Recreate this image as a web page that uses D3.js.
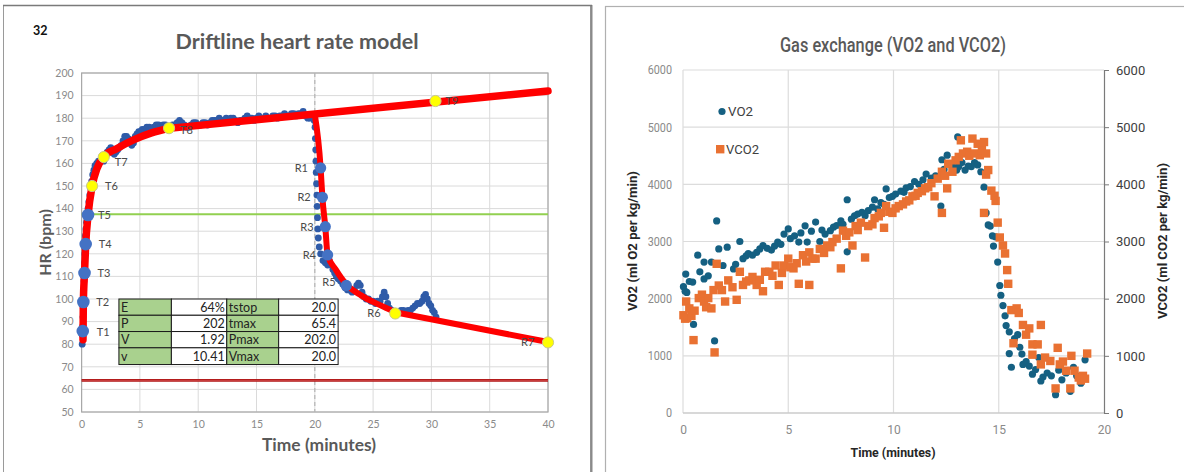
<!DOCTYPE html>
<html><head><meta charset="utf-8">
<script src="https://cdn.jsdelivr.net/npm/d3@7"></script>
<style>
html,body{margin:0;padding:0;background:#fff;}
svg{display:block;}
.lf{font-family:Lato,'Open Sans',sans-serif;}
.rf{font-family:Roboto,'Open Sans',sans-serif;}
</style></head>
<body>
<svg id="c" width="1184" height="472"></svg>
<script>
// ---------- Left chart data ----------
const hrTicksY = [50,60,70,80,90,100,110,120,130,140,150,160,170,180,190,200];
const hrTicksX = [0,5,10,15,20,25,30,35,40];
const hrTime = [0.05,0.08,0.1,0.12,0.14,0.16,0.18,0.2,0.22,0.25,0.28,0.3,0.33,0.37,0.42,0.48,0.55,0.62,0.7,0.78,0.86,0.95,1.05,1.15,1.3,1.45,1.6,1.75,1.9,2.05,2.2,2.35,2.5,2.65,2.8,2.95,3.1,3.25,3.4,3.55,3.7,3.85,4.0,4.15,4.3,4.45,4.6,4.75,4.9,5.05,5.2,5.4,5.6,5.8,6.0,6.2,6.4,6.6,6.8,7.0,7.2,7.4,7.6,7.8,8.0,8.2,8.4,8.6,8.8,9.0,9.2,9.4,9.6,9.8,10.0,10.2,10.4,10.6,10.8,11.0,11.2,11.4,11.6,11.8,12.0,12.2,12.4,12.6,12.8,13.0,13.2,13.4,13.6,13.8,14.0,14.2,14.4,14.6,14.8,15.0,15.2,15.4,15.6,15.8,16.0,16.2,16.4,16.6,16.8,17.0,17.2,17.4,17.6,17.8,18.0,18.2,18.4,18.6,18.8,19.0,19.2,19.4,19.6,19.8,19.95,20.02,20.05,20.08,20.1,20.12,20.15,20.18,20.2,20.23,20.26,20.3,20.38,20.5,20.7,20.9,21.1,21.25,21.4,21.55,21.7,21.85,22.0,22.2,22.4,22.6,22.8,23.0,23.2,23.4,23.6,23.75,23.9,24.05,24.2,24.4,24.6,24.8,25.0,25.2,25.4,25.6,25.8,25.95,26.1,26.25,26.4,26.6,26.8,27.0,27.2,27.4,27.6,27.8,28.0,28.2,28.4,28.6,28.8,29.0,29.2,29.35,29.5,29.65,29.8,29.95,30.1,30.25,30.4];
const hrValue = [80,84,88,92,96,100,104,108,112,116,120,124,128,131,134,137,140,143,146,149,152,155,157,159,160,161,161,162,161,163,165,166,167,165,164,165,166,167,168,170,172,172,171,169,168,169,172,173,174,174,175,175,176,176,175,176,177,177,176,177,177,176,176,177,177,178,179,178,177,176,176,177,178,178,177,177,178,178,177,178,179,179,179,180,179,179,180,179,180,180,179,178,179,179,180,181,180,180,179,180,181,180,180,181,180,180,181,181,180,181,181,182,181,181,182,182,181,182,182,183,181,180,180,181,179,176,171,166,161,156,151,146,141,136,131,127,123,120,117,116,115,117,115,113,111.5,110,109,108,106.5,105,104,104,103,104,106,107,106,103,101,100,100,99,99,98,99,99,101,103,101,98,96,95,94,94,94,95,95,94,95,95,96,97,98,98,99,101,102,100,98,97,95,94,92];
const modelRiseT = [0.12,0.15,0.25,0.35,0.55,0.9,1.3,1.9,3,4.5,6,7.5];
const modelRiseV = [82,98.5,111.5,124,137,150,157.5,163,166.5,170.5,173.5,175.5];
const modelDriftT = [7.5,40];
const modelDriftV = [175.5,192];
const modelRecT = [20.0,20.5,20.65,20.9,21.1,21.8,22.7,24,25.5,27];
const modelRecV = [181.5,158,145,132,119.5,113,106.5,101.5,97.5,94];
const modelTailT = [27,40];
const modelTailV = [94,81];
const blueMarkLabels = ["T1","T2","T3","T4","T5","R1","R2","R3","R4","R5"];
const blueMarkT = [0.1,0.15,0.25,0.35,0.55,20.5,20.65,20.9,21.1,22.7];
const blueMarkV = [85.8,98.7,111.5,124.3,137.2,158,145,132,119.5,106];
const yellowMarkLabels = ["T6","T7","T8","T9","R6","R7"];
const yellowMarkT = [0.9,1.9,7.5,30.35,26.9,40];
const yellowMarkV = [150,162.8,175.6,187.6,93.6,80.8];
const thresholdHR = 137.5;
const restHR = 64;
const stopTime = 20;
const tableRows = [["E","64%","tstop","20.0"],["P","202","tmax","65.4"],["V","1.92","Pmax","202.0"],["v","10.41","Vmax","20.0"]];
const tableColT = [3.2,7.7,12.45,16.9,22.0];
const tableRowHR = [100,92.8,85.6,78.4,71];

// ---------- Right chart data ----------
const gasTicksY = [0,1000,2000,3000,4000,5000,6000];
const gasTicksX = [0,5,10,15,20];
const vo2Time = [0.02,0.1,0.13,0.18,0.3,0.46,0.5,0.7,0.8,1.0,1.0,1.2,1.35,1.5,1.6,1.7,1.9,2.1,2.4,2.5,2.7,2.85,3.0,3.1,3.3,3.5,3.65,3.8,4.0,4.2,4.35,4.5,4.65,4.8,5.0,5.1,5.3,5.5,5.6,5.8,5.9,6.1,6.3,6.5,6.6,6.75,7.0,7.15,7.3,7.5,7.6,7.8,7.8,8.0,8.15,8.3,8.5,8.65,8.8,9.0,9.1,9.25,9.4,9.55,9.65,9.8,9.95,10.1,10.35,10.5,10.6,10.8,11.0,11.2,11.4,11.55,11.8,12.0,12.25,12.3,12.4,12.55,12.7,12.85,13.0,13.05,13.1,13.25,13.4,13.55,13.7,13.85,14.0,14.15,14.3,14.4,14.5,14.6,14.7,14.75,14.85,14.95,15.05,15.1,15.2,15.3,15.35,15.5,15.5,15.6,15.75,15.9,16.0,16.1,16.15,16.3,16.45,16.6,16.75,16.9,17.0,17.1,17.3,17.5,17.7,17.85,18.0,18.2,18.4,18.55,18.7,18.9,19.1];
const vo2Value = [2210,2130,2430,2110,2300,2290,1550,2760,2470,2640,2345,2400,2640,1260,3360,2870,2580,2900,2520,2600,3000,2700,2750,2790,2760,2810,2870,2930,2880,2850,2920,2990,2950,3130,3220,3050,3100,2990,3150,3275,2990,3180,3340,3000,3200,3130,3190,3250,3280,3360,3300,3730,2820,3390,3450,3480,3510,3450,3540,3600,3730,3570,3680,3650,3920,3770,3790,3830,3880,3860,3940,3960,4050,4000,4080,4180,4110,4150,3620,4430,4260,4510,4350,4300,4250,4830,4310,4380,4250,4320,4310,4380,4340,4220,3950,3500,3290,3270,3100,2920,3080,2640,2230,2060,1880,1700,1530,1420,1040,800,1300,1370,1150,1030,850,900,820,680,760,970,560,630,700,650,320,750,580,700,380,800,650,520,930];
const vco2Time = [0.02,0.1,0.15,0.2,0.3,0.4,0.5,0.55,0.75,0.9,1.0,1.1,1.2,1.35,1.45,1.5,1.6,1.7,1.85,2.0,2.15,2.35,2.55,2.7,2.85,3.0,3.15,3.3,3.5,3.65,3.8,3.9,4.1,4.25,4.4,4.55,4.7,4.8,5.0,5.1,5.25,5.4,5.5,5.7,5.85,6.0,6.0,6.15,6.3,6.5,6.7,6.85,7.0,7.1,7.3,7.5,7.6,7.75,7.9,8.05,8.2,8.3,8.45,8.65,8.8,9.0,9.1,9.3,9.4,9.55,9.65,9.8,9.95,10.1,10.25,10.45,10.6,10.75,10.9,11.05,11.15,11.35,11.5,11.65,11.8,11.95,12.1,12.3,12.3,12.45,12.55,12.6,12.8,12.95,13.1,13.2,13.3,13.5,13.6,13.75,13.85,14.0,14.1,14.2,14.3,14.3,14.4,14.4,14.5,14.65,14.8,14.85,14.95,15.05,15.2,15.3,15.4,15.45,15.6,15.7,15.85,15.95,16.15,16.3,16.45,16.6,16.6,16.85,17.0,17.0,17.2,17.45,17.7,17.8,17.9,18.05,18.2,18.4,18.45,18.6,18.8,18.9,19.0,19.1,19.2];
const vco2Value = [1710,1650,1950,1660,1830,1700,1275,1790,2010,2070,1950,1850,2010,1830,2150,1060,2610,2230,2150,1950,2320,2200,1980,2470,2240,2300,2320,2380,2240,2330,2130,2470,2470,2400,2580,2240,2450,2580,2700,2550,2530,2620,2260,2760,2650,2240,2810,2700,2700,2870,2800,2930,2900,2990,3050,2530,3190,3100,3160,2930,3270,3200,3330,2720,3270,3300,3410,3440,3500,3240,3620,3520,3500,3580,3620,3650,3700,3720,3790,3800,3850,3880,3930,3950,4020,3790,4100,3500,4220,4150,3930,4360,4220,4420,4480,4770,4540,4570,4500,4800,4540,4710,4510,4600,4740,3500,4540,4170,4250,3890,3800,3710,3330,3070,2930,2790,2500,2260,1800,1220,1830,1750,1540,1370,1480,1200,1020,1200,1540,850,970,910,430,1140,850,900,740,430,1000,740,620,570,650,600,1040];

const svg = d3.select("#c");
svg.append("rect").attr("width",1184).attr("height",472).attr("fill","#fff");

// panel frames
svg.append("rect").attr("x",3.5).attr("y",5.5).attr("width",587).attr("height",470).attr("fill","none").attr("stroke","#9a9a9a").attr("stroke-width",1);
svg.append("line").attr("x1",591.5).attr("x2",591.5).attr("y1",5).attr("y2",472).attr("stroke","#8a8a8a").attr("stroke-width",2);
svg.append("line").attr("x1",3).attr("x2",592).attr("y1",5.5).attr("y2",5.5).attr("stroke","#7a7a7a").attr("stroke-width",1.5);
svg.append("rect").attr("x",605.5).attr("y",6.5).attr("width",590).attr("height",470).attr("fill","none").attr("stroke","#b0b0b0").attr("stroke-width",1.2);

// ================= LEFT CHART =================
const x = d3.scaleLinear().domain([0,40]).range([81.6,548]);
const y = d3.scaleLinear().domain([50,200]).range([412,73]);
const L = svg.append("g").attr("class","lf");

L.append("g").selectAll("line").data(hrTicksY).join("line")
  .attr("x1",x(0)).attr("x2",x(40)).attr("y1",d=>y(d)).attr("y2",d=>y(d))
  .attr("stroke","#dadada").attr("stroke-width",1);
L.append("g").selectAll("line").data(hrTicksX).join("line")
  .attr("y1",y(50)).attr("y2",y(200)).attr("x1",d=>x(d)).attr("x2",d=>x(d))
  .attr("stroke","#dadada").attr("stroke-width",1);
L.append("rect").attr("x",x(0)).attr("y",y(200)).attr("width",x(40)-x(0)).attr("height",y(50)-y(200))
  .attr("fill","none").attr("stroke","#a8a8a8").attr("stroke-width",1.2);

const ax = d3.axisBottom(x).tickValues(hrTicksX).tickSize(0).tickPadding(9);
const gx = L.append("g").attr("transform",`translate(0,${y(50)})`).call(ax);
gx.select(".domain").remove();
gx.selectAll("text").attr("fill","#8a8a8a").style("font-size","10.5px").style("font-family","Lato,sans-serif");
const ay = d3.axisLeft(y).tickValues(hrTicksY).tickSize(0).tickPadding(8);
const gy = L.append("g").attr("transform",`translate(${x(0)},0)`).call(ay);
gy.select(".domain").remove();
gy.selectAll("text").attr("fill","#8a8a8a").style("font-size","10.5px").style("font-family","Lato,sans-serif");

L.append("line").attr("x1",x(stopTime)).attr("x2",x(stopTime)).attr("y1",y(200)).attr("y2",y(50))
  .attr("stroke","#b5b5b5").attr("stroke-width",1.2).attr("stroke-dasharray","4,3");
L.append("line").attr("x1",x(0)).attr("x2",x(40)).attr("y1",y(thresholdHR)).attr("y2",y(thresholdHR))
  .attr("stroke","#92d050").attr("stroke-width",2);
L.append("line").attr("x1",x(0)).attr("x2",x(40)).attr("y1",y(restHR)).attr("y2",y(restHR))
  .attr("stroke","#b01515").attr("stroke-width",2.6);
L.append("line").attr("x1",x(0)).attr("x2",x(40)).attr("y1",y(restHR)).attr("y2",y(restHR))
  .attr("stroke","#e06060").attr("stroke-width",0.6);

const hrData = hrTime.map((t,i)=>({t,v:hrValue[i]}));
L.append("g").selectAll("circle").data(hrData).join("circle")
  .attr("cx",d=>x(d.t)).attr("cy",d=>y(d.v)).attr("r",3.4).attr("fill","#2f5ba8");

// table
const T = L.append("g");
tableRows.forEach((row,ri)=>{
  row.forEach((cell,ci)=>{
    const x0 = x(tableColT[ci]), x1 = x(tableColT[ci+1]);
    const y0 = y(tableRowHR[ri]), y1 = y(tableRowHR[ri+1]);
    T.append("rect").attr("x",x0).attr("y",y0).attr("width",x1-x0).attr("height",y1-y0)
      .attr("fill", ci%2===0 ? "#a9d18e" : "#ffffff").attr("stroke","#1a1a1a").attr("stroke-width",1);
    const left = ci%2===0;
    T.append("text").attr("x", left ? x0+2 : x1-2).attr("y",(y0+y1)/2+4.5)
      .attr("text-anchor", left ? "start":"end").attr("fill","#222")
      .style("font-size","12.5px").style("font-family","Lato,sans-serif").text(cell);
  });
});

// model curves
const redStyle = s=>s.attr("fill","none").attr("stroke","#ff0000").attr("stroke-width",7.5).attr("stroke-linecap","round").attr("stroke-linejoin","round");
L.append("path").datum(modelRiseT.map((t,i)=>[t,modelRiseV[i]])).attr("d",d3.line().x(d=>x(d[0])).y(d=>y(d[1])).curve(d3.curveMonotoneX)).call(redStyle);
L.append("path").datum(modelDriftT.map((t,i)=>[t,modelDriftV[i]])).attr("d",d3.line().x(d=>x(d[0])).y(d=>y(d[1]))).call(redStyle);
L.append("path").datum(modelRecT.map((t,i)=>[t,modelRecV[i]])).attr("d",d3.line().x(d=>x(d[0])).y(d=>y(d[1])).curve(d3.curveMonotoneX)).call(redStyle).attr("stroke-width",6);
L.append("path").datum(modelTailT.map((t,i)=>[t,modelTailV[i]])).attr("d",d3.line().x(d=>x(d[0])).y(d=>y(d[1]))).call(redStyle).attr("stroke-width",6);

// markers
const blueM = blueMarkT.map((t,i)=>({t,v:blueMarkV[i],l:blueMarkLabels[i]}));
L.append("g").selectAll("circle").data(blueM).join("circle")
  .attr("cx",d=>x(d.t)).attr("cy",d=>y(d.v)).attr("r",d=>d.l[0]==="T"?6.3:5.6).attr("fill","#4472c4");
const yelM = yellowMarkT.map((t,i)=>({t,v:yellowMarkV[i],l:yellowMarkLabels[i]}));
L.append("g").selectAll("circle").data(yelM).join("circle")
  .attr("cx",d=>x(d.t)).attr("cy",d=>y(d.v)).attr("r",5.6).attr("fill","#ffff00").attr("stroke","#c9c98a").attr("stroke-width",1);

const labOff = {T1:[14,5],T2:[13,4],T3:[13,4],T4:[13,4],T5:[10,4],T6:[13,4],T7:[11,9],T8:[11,6],T9:[10,4],
  R1:[-26,4],R2:[-25,4],R3:[-25,4],R4:[-25,4],R5:[-24,1],R6:[-28,4],R7:[-27,4]};
const allM = blueM.concat(yelM);
L.append("g").selectAll("text").data(allM).join("text")
  .attr("x",d=>x(d.t)+labOff[d.l][0]).attr("y",d=>y(d.v)+labOff[d.l][1])
  .attr("fill","#4a4a4a").style("font-size","11px").style("font-family","Lato,sans-serif").text(d=>d.l);

// titles
L.append("text").attr("x",33).attr("y",35).attr("fill","#111").style("font-size","12.5px").style("font-weight","700").text("32");
L.append("text").attr("x",297).attr("y",49).attr("text-anchor","middle").attr("fill","#595959")
  .style("font-size","21px").style("font-weight","700").attr("textLength",243).attr("lengthAdjust","spacingAndGlyphs").text("Driftline heart rate model");
L.append("text").attr("x",319).attr("y",451).attr("text-anchor","middle").attr("fill","#595959")
  .style("font-size","16.5px").style("font-weight","700").attr("textLength",114).attr("lengthAdjust","spacingAndGlyphs").text("Time (minutes)");
L.append("text").attr("transform",`translate(51,${(y(50)+y(200))/2}) rotate(-90)`).attr("text-anchor","middle").attr("fill","#595959")
  .style("font-size","16px").style("font-weight","700").text("HR (bpm)");

// ================= RIGHT CHART =================
const x2 = d3.scaleLinear().domain([0,20]).range([683,1104]);
const y2 = d3.scaleLinear().domain([0,6000]).range([413,70]);
const R = svg.append("g").attr("class","rf");

R.append("g").selectAll("line").data(gasTicksY).join("line")
  .attr("x1",x2(0)).attr("x2",x2(20)).attr("y1",d=>y2(d)).attr("y2",d=>y2(d))
  .attr("stroke","#dcdcdc").attr("stroke-width",1.2);
R.append("g").selectAll("line").data(gasTicksX.slice(0,4)).join("line")
  .attr("y1",y2(0)).attr("y2",y2(6000)).attr("x1",d=>x2(d)).attr("x2",d=>x2(d))
  .attr("stroke","#dcdcdc").attr("stroke-width",1.2);
R.append("line").attr("x1",x2(0)).attr("x2",x2(20)).attr("y1",y2(0)).attr("y2",y2(0)).attr("stroke","#c4c4c4").attr("stroke-width",1.2);

const fmt = d3.format("d");
const bx = d3.axisBottom(x2).tickValues(gasTicksX).tickSize(0).tickPadding(12);
const gbx = R.append("g").attr("transform",`translate(0,${y2(0)})`).call(bx);
gbx.select(".domain").remove();
gbx.selectAll("text").attr("fill","#8a8a8a").style("font-size","12px").style("font-family","Roboto,sans-serif");
const ly = d3.axisLeft(y2).tickValues(gasTicksY).tickFormat(fmt).tickSize(0).tickPadding(11);
const gly = R.append("g").attr("transform",`translate(${x2(0)},0)`).call(ly);
gly.select(".domain").remove();
gly.selectAll("text").attr("fill","#8a8a8a").style("font-size","12px").style("font-family","Roboto,sans-serif").attr("transform","scale(0.9,1)").attr("x",-11/0.9);
const ry = d3.axisRight(y2).tickValues(gasTicksY).tickFormat(fmt).tickSize(5).tickPadding(7).tickSizeOuter(0);
const gry = R.append("g").attr("transform",`translate(${x2(20)},0)`).call(ry);
gry.select(".domain").attr("stroke","#7a7a7a").attr("stroke-width",1.2);
gry.selectAll("line").attr("stroke","#7a7a7a");
gry.selectAll("text").attr("fill","#404040").style("font-size","13px").style("font-family","Roboto,sans-serif");

const vo2C = "#156082", vco2C = "#e97132";
const vco2Data = vco2Time.map((t,i)=>({t,v:vco2Value[i]}));
const vo2Data = vo2Time.map((t,i)=>({t,v:vo2Value[i]}));
R.append("g").selectAll("circle").data(vo2Data).join("circle")
  .attr("cx",d=>x2(d.t)).attr("cy",d=>y2(d.v)).attr("r",3.6).attr("fill",vo2C);
R.append("g").selectAll("rect").data(vco2Data).join("rect")
  .attr("x",d=>x2(d.t)-4.2).attr("y",d=>y2(d.v)-4.2).attr("width",8.4).attr("height",8.4).attr("fill",vco2C);

// legend
R.append("circle").attr("cx",722).attr("cy",111.5).attr("r",3.6).attr("fill",vo2C);
R.append("text").attr("x",728).attr("y",116).attr("fill","#404040").style("font-size","13px").attr("textLength",25).attr("lengthAdjust","spacingAndGlyphs").text("VO2");
R.append("rect").attr("x",716).attr("y",145).attr("width",8.4).attr("height",8.4).attr("fill",vco2C);
R.append("text").attr("x",726).attr("y",154).attr("fill","#404040").style("font-size","13px").attr("textLength",33).attr("lengthAdjust","spacingAndGlyphs").text("VCO2");

R.append("text").attr("x",893).attr("y",52).attr("text-anchor","middle").attr("fill","#595959")
  .style("font-size","21px").style("font-weight","500").attr("textLength",226).attr("lengthAdjust","spacingAndGlyphs").text("Gas exchange (VO2 and VCO2)");
R.append("text").attr("x",893).attr("y",457).attr("text-anchor","middle").attr("fill","#262626")
  .style("font-size","12px").style("font-weight","700").attr("textLength",85).attr("lengthAdjust","spacingAndGlyphs").text("Time (minutes)");
R.append("text").attr("transform",`translate(637,241) rotate(-90)`).attr("text-anchor","middle").attr("fill","#262626")
  .style("font-size","12px").style("font-weight","700").attr("textLength",140).attr("lengthAdjust","spacingAndGlyphs").text("VO2 (ml O2 per kg/min)");
R.append("text").attr("transform",`translate(1167,241) rotate(-90)`).attr("text-anchor","middle").attr("fill","#262626")
  .style("font-size","12px").style("font-weight","700").attr("textLength",156).attr("lengthAdjust","spacingAndGlyphs").text("VCO2 (ml CO2 per kg/min)");
</script>
</body></html>
